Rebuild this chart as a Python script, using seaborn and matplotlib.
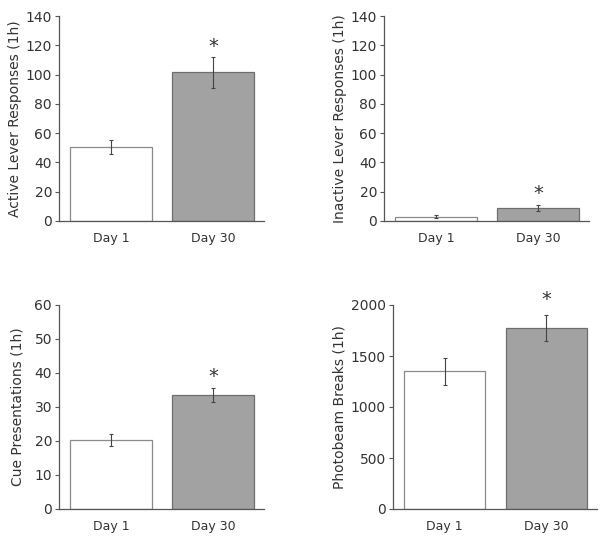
import numpy as np
import pandas as pd
import matplotlib
matplotlib.use("Agg")
import matplotlib.pyplot as plt
import seaborn as sns

# Group means and SEM
days = ["Day 1", "Day 30"]

active_mean = [50.5, 101.5]
active_sem = [4.5, 10.5]

inactive_mean = [3.0, 8.7]
inactive_sem = [0.8, 2.1]

cue_mean = [20.4, 33.5]
cue_sem = [1.8, 2.0]

beam_mean = [1350, 1778]
beam_sem = [130, 128]

ylabels = ["Active Lever Responses (1h)", "Inactive Lever Responses (1h)",
           "Cue Presentations (1h)", "Photobeam Breaks (1h)"]
ylims = [140, 140, 60, 2000]
ysteps = [20, 20, 10, 500]
star_y = [119.5, 19.1, 39.1, 2056]
label_pads = [3, 3, 7, 3]

sns.set_style("ticks")
plt.rcParams['font.family'] = ['DejaVu Sans']

fig = plt.figure(figsize=(6.04, 5.4), dpi=100)
W, H = 604, 540
# axes boxes in pixels: left, top, right, bottom
boxes = [(59, 16, 264, 221), (384, 16, 589, 221),
         (59, 305, 264, 509), (393, 305, 597, 509)]

means = [active_mean, inactive_mean, cue_mean, beam_mean]
sems = [active_sem, inactive_sem, cue_sem, beam_sem]

text_col = "#333333"
for i in range(4):
    l, t, r, b = boxes[i]
    ax = fig.add_axes([l / W, 1 - b / H, (r - l) / W, (b - t) / H])
    df = pd.DataFrame({"day": days, "value": means[i]})
    sns.barplot(data=df, x="day", y="value", hue="day",
                palette=["white", "#a2a2a2"], width=0.8, ax=ax, legend=False)
    edges = ["#8a8a8a", "#6e6e6e"]
    for p, ec in zip(ax.patches, edges):
        p.set_edgecolor(ec)
        p.set_linewidth(0.9)
    ax.errorbar(range(len(days)), means[i], yerr=sems[i], fmt="none",
                ecolor="#444444", elinewidth=0.8, capsize=1.5, capthick=0.8)
    ax.text(1, star_y[i], "*", ha="center", va="center", fontsize=14,
            color=text_col, clip_on=False)
    ax.set_xlim(-0.51, 1.5)
    ax.set_ylim(0, ylims[i])
    ax.set_yticks(np.arange(0, ylims[i] + 1, ysteps[i]))
    ax.set_xlabel("")
    ax.set_ylabel(ylabels[i], fontsize=10, color=text_col, labelpad=label_pads[i])
    ax.tick_params(axis="y", length=3, width=0.8, pad=2, labelsize=10,
                   colors="#555555", labelcolor=text_col)
    ax.tick_params(axis="x", length=0, pad=8, labelsize=9, labelcolor=text_col)
    sns.despine(ax=ax)
    for s in ["left", "bottom"]:
        ax.spines[s].set_color("#555555")
        ax.spines[s].set_linewidth(0.9)

fig.savefig("out.png", dpi=100)
